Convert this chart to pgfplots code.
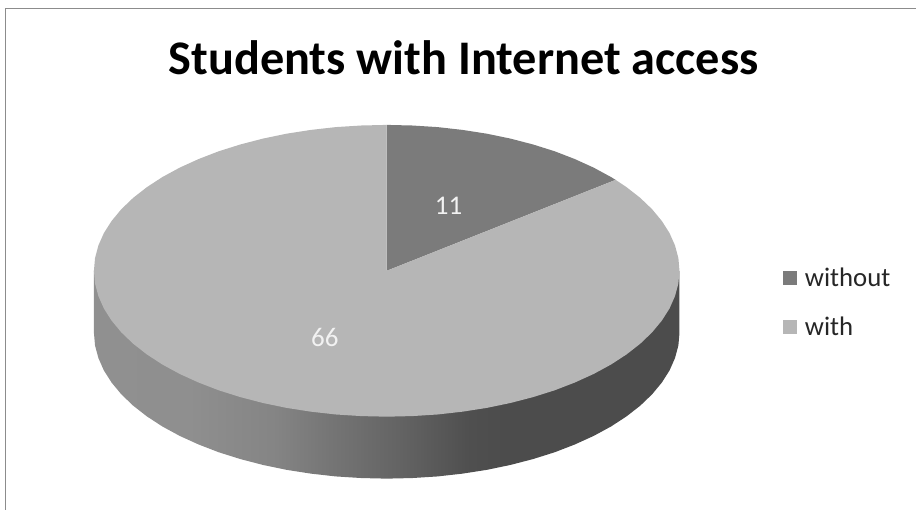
\documentclass[border=0pt]{standalone}
\usepackage{pgfplots}
\pgfplotsset{compat=1.18}
\usepackage{fontspec}
\setmainfont{Carlito}
\definecolor{sliceWithout}{HTML}{7B7B7B}
\definecolor{sliceWith}{HTML}{B6B6B6}
\definecolor{chartFrame}{HTML}{8C8C8C}
\definecolor{legendText}{HTML}{262626}
\definecolor{valueText}{HTML}{F2F2F2}
% Rim of the pie: grey that darkens towards the right.
% A path's bounding box spans 25bp to 75bp of a shading; here that is x = 94 to x = 680.
\pgfdeclarehorizontalshading{pierim}{100bp}{
  color(0bp)=(black!43.5);
  color(25bp)=(black!43.5);
  color(33.2bp)=(black!44);
  color(40.4bp)=(black!48);
  color(45.1bp)=(black!54);
  color(51.1bp)=(black!61);
  color(57.1bp)=(black!69);
  color(59.6bp)=(black!70);
  color(75bp)=(black!70);
  color(100bp)=(black!70)
}
\begin{document}
\begin{tikzpicture}
\begin{axis}[
  width=917pt, height=510pt, scale only axis,
  xmin=0, xmax=917, ymin=0, ymax=510, y dir=reverse,
  hide axis, clip=false,
  legend cell align=left,
  legend image code/.code={\fill[#1] (0pt,-7pt) rectangle (14pt,7pt);},
  legend style={
    at={(axis cs:783.5,266)}, anchor=north west,
    draw=none, fill=none, inner sep=0pt, outer sep=0pt,
    font=\fontsize{26.8}{26.8}\selectfont\color{legendText},
    row sep=25pt,
    /tikz/every odd column/.append style={column sep=6pt},
  },
]
% Picture extent
\path (axis cs:0,0) rectangle (axis cs:917,510);

% Chart frame along the top and the left
\draw[chartFrame, line width=1.4pt] (axis cs:5.5,510) -- (axis cs:5.5,8.5) -- (axis cs:917,8.5);

% Rim below the top face
\addplot[forget plot, draw=none, shade, shading=pierim] coordinates {
  (94,271) (94,333) (95.1,345.7) (98.5,358.4) (104,370.8) (111.7,382.9) (121.5,394.7)
  (133.3,406) (147,416.7) (162.5,426.8) (179.8,436.2) (198.7,444.8) (218.9,452.6)
  (240.5,459.4) (263.2,465.3) (286.8,470.2) (311.2,474) (336.1,476.8) (361.5,478.4)
  (387,479) (412.5,478.4) (437.9,476.8) (462.8,474) (487.2,470.2) (510.8,465.3)
  (533.5,459.4) (555.1,452.6) (575.3,444.8) (594.2,436.2) (611.5,426.8) (627,416.7)
  (640.7,406) (652.5,394.7) (662.3,382.9) (670,370.8) (675.5,358.4) (678.9,345.7)
  (680,333) (680,271)
} --cycle;

% Slice for 11 of 77 students: 51.43 degrees clockwise from the top
\addplot[draw=none, fill=sliceWithout] coordinates {
  (387,271) (387,125) (412.5,125.6) (437.9,127.2) (462.8,130) (487.2,133.8) (510.8,138.7)
  (533.5,144.6) (555.1,151.4) (575.3,159.2) (594.2,167.8) (611.5,177.2) (616.1,180)
} --cycle;
\addlegendentry{without}

% Slice for 66 of 77 students: the remaining 308.57 degrees
\addplot[draw=none, fill=sliceWith] coordinates {
  (387,271) (616.1,180) (627,187.3) (640.7,198) (652.5,209.3) (662.3,221.1) (670,233.2)
  (675.5,245.6) (678.9,258.3) (680,271) (678.9,283.7) (675.5,296.4) (670,308.8)
  (662.3,320.9) (652.5,332.7) (640.7,344) (627,354.7) (611.5,364.8) (594.2,374.2)
  (575.3,382.8) (555.1,390.6) (533.5,397.4) (510.8,403.3) (487.2,408.2) (462.8,412)
  (437.9,414.8) (412.5,416.4) (387,417) (361.5,416.4) (336.1,414.8) (311.2,412)
  (286.8,408.2) (263.2,403.3) (240.5,397.4) (218.9,390.6) (198.7,382.8) (179.8,374.2)
  (162.5,364.8) (147,354.7) (133.3,344) (121.5,332.7) (111.7,320.9) (104,308.8)
  (98.5,296.4) (95.1,283.7) (94,271) (95.1,258.3) (98.5,245.6) (104,233.2) (111.7,221.1)
  (121.5,209.3) (133.3,198) (147,187.3) (162.5,177.2) (179.8,167.8) (198.7,159.2)
  (218.9,151.4) (240.5,144.6) (263.2,138.7) (286.8,133.8) (311.2,130) (336.1,127.2)
  (361.5,125.6) (387,125)
} --cycle;
\addlegendentry{with}

% Title and value labels
\node[anchor=base, font=\fontsize{48.3}{48.3}\selectfont\bfseries, text=black]
  at (axis cs:464,74.5) {Students with Internet access};
\node[anchor=center, font=\fontsize{27}{27}\selectfont, text=valueText] at (axis cs:449,206) {11};
\node[anchor=center, font=\fontsize{27}{27}\selectfont, text=valueText] at (axis cs:325,338) {66};
\end{axis}
\end{tikzpicture}
\end{document}
